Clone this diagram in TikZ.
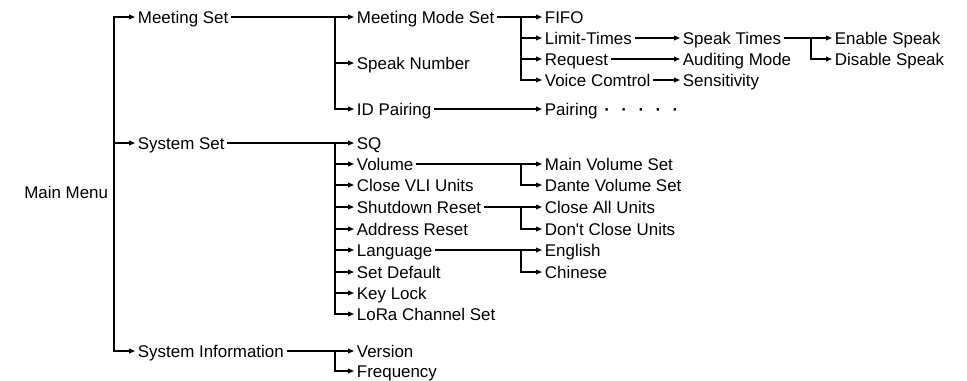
\documentclass[tikz,border=0pt]{standalone}
\usepackage{fontspec}
\setmainfont{Liberation Sans}
\usetikzlibrary{arrows.meta}

\newcommand{\pdots}{\hspace{8.6pt}\textbf{·}}

\begin{document}
\begin{tikzpicture}[
    x=0.75pt, y=-0.75pt,
    item/.style={anchor=west, inner xsep=2pt, inner ysep=0pt, text height=10pt, text depth=0.9pt, font=\fontsize{12.7}{15}\selectfont},
    line/.style={draw, line width=0.9pt, -{Triangle[length=4.5pt,width=3.6pt]}}
]
\useasboundingbox (0,0) rectangle (967,380);

% bus positions
\coordinate (mbus) at (114,192);
\coordinate (bus1) at (335,0);
\coordinate (bus2) at (521,0);
\coordinate (bus3) at (811,0);

\node [item, anchor=east] (menu) at (111,192) {Main Menu};
\node [item] (meeting) at (135,17) {Meeting Set};
\node [item] (system) at (135,143) {System Set};
\node [item] (info) at (135,351) {System Information};

% meeting set
\node [item] (mode) at (354,17) {Meeting Mode Set};
\node [item] (speaknum) at (354,63) {Speak Number};
\node [item] (idpair) at (354,109) {ID Pairing};
\node [item] (fifo) at (542,17) {FIFO};
\node [item] (limit) at (542,38) {Limit-Times};
\node [item] (request) at (542,59) {Request};
\node [item] (voice) at (542,80) {Voice Comtrol};
\node [item] (pairing) at (542,109) {Pairing\hspace{5pt}\textbf{·}\pdots\pdots\pdots\pdots};
\node [item] (speaktimes) at (680,38) {Speak Times};
\node [item] (auditing) at (680,59) {Auditing Mode};
\node [item] (sensitivity) at (680,80) {Sensitivity};
\node [item] (enable) at (832,38) {Enable Speak};
\node [item] (disable) at (832,59) {Disable Speak};

% system set
\node [item] (sq) at (354,143) {SQ};
\node [item] (volume) at (354,164) {Volume};
\node [item] (closevli) at (354,185) {Close VLI Units};
\node [item] (shutdown) at (354,207) {Shutdown Reset};
\node [item] (address) at (354,229) {Address Reset};
\node [item] (language) at (354,250) {Language};
\node [item] (default) at (354,272) {Set Default};
\node [item] (keylock) at (354,293) {Key Lock};
\node [item] (lora) at (354,314) {LoRa Channel Set};
\node [item] (mainvol) at (542,164) {Main Volume Set};
\node [item] (dantevol) at (542,185) {Dante Volume Set};
\node [item] (closeall) at (542,207) {Close All Units};
\node [item] (dontclose) at (542,229) {Don\textquotesingle t Close Units};
\node [item] (english) at (542,250) {English};
\node [item] (chinese) at (542,272) {Chinese};

% system information
\node [item] (version) at (354,351) {Version};
\node [item] (frequency) at (354,371) {Frequency};

% main menu
\path [line] (mbus) |- (meeting.west);
\path [line] (mbus) |- (system.west);
\path [line] (mbus) |- (info.west);

% meeting set branches
\path [line] (meeting.east) -- (meeting.east -| bus1) |- (mode.west);
\path [line] (meeting.east -| bus1) |- (speaknum.west);
\path [line] (meeting.east -| bus1) |- (idpair.west);
\path [line] (mode.east) -- (mode.east -| bus2) |- (fifo.west);
\path [line] (mode.east -| bus2) |- (limit.west);
\path [line] (mode.east -| bus2) |- (request.west);
\path [line] (mode.east -| bus2) |- (voice.west);
\path [line] (idpair.east) -- (pairing.west);
\path [line] (limit.east) -- (speaktimes.west);
\path [line] (request.east) -- (auditing.west);
\path [line] (voice.east) -- (sensitivity.west);
\path [line] (speaktimes.east) -- (speaktimes.east -| bus3) |- (enable.west);
\path [line] (speaktimes.east -| bus3) |- (disable.west);

% system set branches
\path [line] (system.east) -- (system.east -| bus1) |- (sq.west);
\path [line] (system.east -| bus1) |- (volume.west);
\path [line] (system.east -| bus1) |- (closevli.west);
\path [line] (system.east -| bus1) |- (shutdown.west);
\path [line] (system.east -| bus1) |- (address.west);
\path [line] (system.east -| bus1) |- (language.west);
\path [line] (system.east -| bus1) |- (default.west);
\path [line] (system.east -| bus1) |- (keylock.west);
\path [line] (system.east -| bus1) |- (lora.west);
\path [line] (volume.east) -- (volume.east -| bus2) |- (mainvol.west);
\path [line] (volume.east -| bus2) |- (dantevol.west);
\path [line] (shutdown.east) -- (shutdown.east -| bus2) |- (closeall.west);
\path [line] (shutdown.east -| bus2) |- (dontclose.west);
\path [line] (language.east) -- (language.east -| bus2) |- (english.west);
\path [line] (language.east -| bus2) |- (chinese.west);

% system information branches
\path [line] (info.east) -- (info.east -| bus1) |- (version.west);
\path [line] (info.east -| bus1) |- (frequency.west);
\end{tikzpicture}
\end{document}
